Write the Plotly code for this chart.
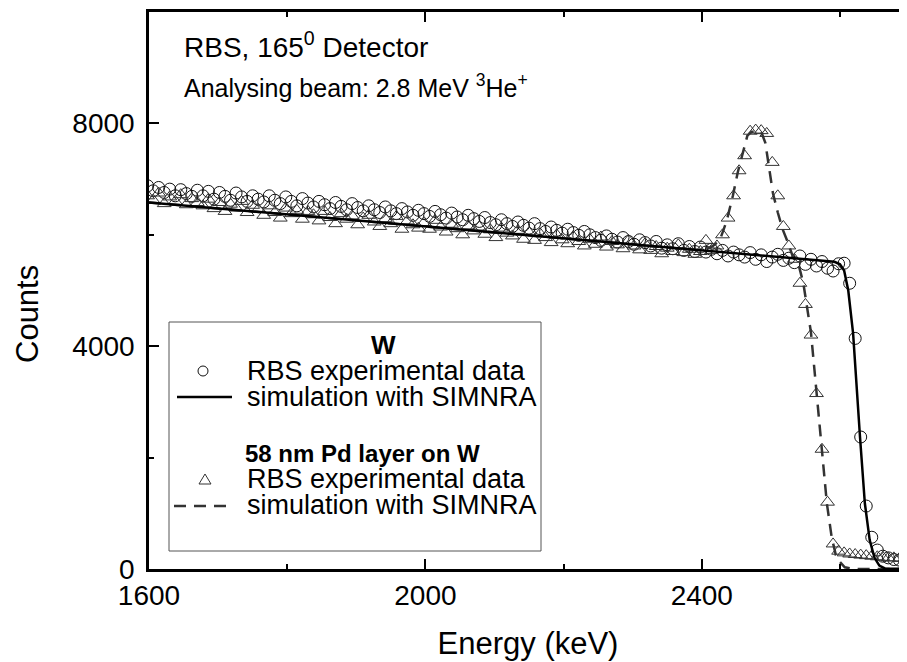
import plotly.graph_objects as go

# ---------------- data ----------------
energy_keV = [
    1598, 1606, 1614, 1622, 1630, 1638, 1646, 1654, 1662, 1670,
    1678, 1686, 1694, 1702, 1710, 1718, 1726, 1734, 1742, 1750,
    1758, 1766, 1774, 1782, 1790, 1798, 1806, 1814, 1822, 1830,
    1838, 1846, 1854, 1862, 1870, 1878, 1886, 1894, 1902, 1910,
    1918, 1926, 1934, 1942, 1950, 1958, 1966, 1974, 1982, 1990,
    1998, 2006, 2014, 2022, 2030, 2038, 2046, 2054, 2062, 2070,
    2078, 2086, 2094, 2102, 2110, 2118, 2126, 2134, 2142, 2150,
    2158, 2166, 2174, 2182, 2190, 2198, 2206, 2214, 2222, 2230,
    2238, 2246, 2254, 2262, 2270, 2278, 2286, 2294, 2302, 2310,
    2318, 2326, 2334, 2342, 2350, 2358, 2366, 2374, 2382, 2390,
    2398, 2406, 2414, 2422, 2430, 2438, 2446, 2454, 2462, 2470,
    2478, 2486, 2494, 2502, 2510, 2518, 2526, 2534, 2542, 2550,
    2558, 2566, 2574, 2582, 2590, 2598, 2606, 2614, 2622, 2630,
    2638, 2646, 2654, 2662, 2670, 2678, 2686, 2694,
]

w_exp_counts = [
    6880, 6790, 6850, 6760, 6820, 6700, 6810, 6740, 6690, 6800,
    6700, 6780, 6640, 6760, 6690, 6620, 6750, 6680, 6600, 6700,
    6640, 6590, 6700, 6620, 6560, 6680, 6600, 6520, 6650, 6570,
    6500, 6600, 6540, 6470, 6580, 6510, 6450, 6560, 6490, 6430,
    6520, 6450, 6400, 6500, 6430, 6380, 6470, 6410, 6350, 6440,
    6380, 6330, 6420, 6360, 6300, 6390, 6320, 6270, 6350, 6290,
    6240, 6310, 6220, 6180, 6270, 6200, 6150, 6230, 6170, 6120,
    6200, 6110, 6060, 6140, 6080, 6030, 6100, 6040, 5990, 6060,
    6000, 5950, 5900, 5980, 5920, 5870, 5950, 5880, 5830, 5910,
    5860, 5800, 5880, 5760, 5820, 5750, 5840, 5720, 5790, 5700,
    5780, 5690, 5740, 5660, 5720, 5620, 5690, 5640, 5600, 5680,
    5560, 5640, 5520, 5600, 5650, 5540, 5580, 5500, 5620, 5470,
    5560, 5440, 5520, 5400, 5350, 5480, 5490, 5130, 4140, 2370,
    1130, 570, 340, 230, 200, 170, 160, 150,
]

pd_exp_counts = [
    6700, 6620, 6750, 6560, 6680, 6600, 6720, 6540, 6650, 6580,
    6520, 6640, 6470, 6580, 6420, 6550, 6480, 6600, 6400, 6530,
    6460, 6350, 6520, 6400, 6300, 6480, 6380, 6440, 6280, 6420,
    6360, 6250, 6420, 6310, 6200, 6380, 6280, 6340, 6180, 6300,
    6350, 6230, 6150, 6290, 6200, 6330, 6100, 6250, 6180, 6120,
    6220, 6100, 6260, 6140, 6050, 6190, 6110, 6000, 6160, 6070,
    6140, 6010, 6090, 5950, 6120, 6030, 5980, 6080, 5920, 6040,
    5900, 6020, 5950, 5860, 6000, 5910, 5840, 5970, 5880, 5800,
    5920, 5830, 5960, 5780, 5880, 5820, 5750, 5900, 5800, 5730,
    5840, 5720, 5790, 5660, 5760, 5700, 5820, 5680, 5740, 5650,
    5700, 5900, 5720, 5800, 6000, 6300, 6700, 7150, 7420, 7860,
    7880, 7870, 7820, 7300, 6700, 6150, 5800, 5560, 5130, 4750,
    4200, 3150, 2150, 1200, 450, 320, 290, 270, 260, 250,
    240, 230, 220, 210, 200, 200, 190, 180,
]

w_sim_energy = [1600, 2592, 2600, 2606, 2612, 2619, 2629, 2636, 2643, 2650, 2657, 2665, 2700]
w_sim_counts = [6580, 5515, 5470, 5360, 5000, 4230, 2370, 1180, 520, 200, 60, 10, 0]

pd_sim_energy = [1600, 2400, 2414, 2426, 2436, 2445, 2452, 2460, 2466, 2472, 2486, 2492,
                 2497, 2503, 2510, 2517, 2525, 2532, 2541, 2547, 2558, 2565, 2573, 2581,
                 2588, 2594, 2600, 2607, 2620, 2700]
pd_sim_counts = [6580, 5720, 5780, 5900, 6250, 6700, 7120, 7520, 7780, 7850, 7850, 7650,
                 7210, 6745, 6400, 6100, 5850, 5600, 5420, 5130, 4250, 3300, 2240, 1180,
                 570, 250, 125, 30, 0, 0]

x_ticks = [1600, 2000, 2400]
y_ticks = [0, 4000, 8000]

# ---------------- figure ----------------
FONT = "Liberation Sans, Arial, sans-serif"
OFF = 8                      # page body margin of the html page
WIN_W, WIN_H = 907, 662
# plot area in window pixels
PL, PR, PT, PB = 149, 907, 12, 569
FW, FH = WIN_W - OFF, WIN_H - OFF


def X(p):
    return (p - PL) / (PR - PL)


def Y(p):
    return (PB - p) / (PB - PT)


fig = go.Figure()

fig.add_trace(go.Scatter(
    x=energy_keV, y=w_exp_counts, mode="markers", name="W RBS experimental data",
    marker=dict(symbol="circle-open", size=12, color="#111111", line=dict(width=1, color="#111111")),
))
fig.add_trace(go.Scatter(
    x=energy_keV, y=pd_exp_counts, mode="markers", name="Pd/W RBS experimental data",
    marker=dict(symbol="triangle-up-open", size=12, color="#333333", line=dict(width=1, color="#333333")),
))
fig.add_trace(go.Scatter(
    x=pd_sim_energy, y=pd_sim_counts, mode="lines", name="Pd/W simulation with SIMNRA",
    line=dict(color="#333333", width=2.5, dash="12px,8px"),
))
fig.add_trace(go.Scatter(
    x=w_sim_energy, y=w_sim_counts, mode="lines", name="W simulation with SIMNRA",
    line=dict(color="#000000", width=2.5),
))
# helper trace for right-side tick marks
fig.add_trace(go.Scatter(x=[1600], y=[None], yaxis="y2", mode="markers", showlegend=False, hoverinfo="skip"))

annotations = [
    dict(x=X(182), y=Y(45), text="RBS, 165<sup>0</sup> Detector", font=dict(size=28)),
    dict(x=X(182), y=Y(86), text="Analysing beam: 2.8 MeV <sup>3</sup>He<sup>+</sup>", font=dict(size=25)),
    dict(x=X(383), y=Y(345), text="<b>W</b>", font=dict(size=26), xanchor="center"),
    dict(x=X(245), y=Y(371), text="RBS experimental data", font=dict(size=27)),
    dict(x=X(245), y=Y(397), text="simulation with SIMNRA", font=dict(size=27)),
    dict(x=X(362), y=Y(453), text="<b>58 nm Pd layer on W</b>", font=dict(size=24), xanchor="center"),
    dict(x=X(245), y=Y(479), text="RBS experimental data", font=dict(size=27)),
    dict(x=X(245), y=Y(505), text="simulation with SIMNRA", font=dict(size=27)),
    dict(x=X(27), y=Y(314), text="Counts", font=dict(size=31), xanchor="center", textangle=-90),
]
ann_list = []
for a in annotations:
    d = dict(xref="paper", yref="paper", showarrow=False, xanchor="left", yanchor="middle",
             font=dict(family=FONT, color="#000000"))
    d.update({k: v for k, v in a.items() if k != "font"})
    d["font"].update(a["font"])
    ann_list.append(d)

tri_cx, tri_cy = 205, 480
tri_path = "M {:.5f},{:.5f} L {:.5f},{:.5f} L {:.5f},{:.5f} Z".format(
    X(tri_cx - 6), Y(tri_cy + 4), X(tri_cx + 6), Y(tri_cy + 4), X(tri_cx), Y(tri_cy - 6))

shapes = [
    dict(type="rect", xref="paper", yref="paper", x0=X(169), x1=X(541), y0=Y(551), y1=Y(322),
         line=dict(color="#555555", width=1), fillcolor="rgba(0,0,0,0)", layer="above"),
    dict(type="circle", xref="paper", yref="paper", x0=X(198), x1=X(208), y0=Y(376), y1=Y(366),
         line=dict(color="#111111", width=1)),
    dict(type="line", xref="paper", yref="paper", x0=X(177), x1=X(232), y0=Y(397), y1=Y(397),
         line=dict(color="#000000", width=2.5)),
    dict(type="path", xref="paper", yref="paper", path=tri_path, line=dict(color="#333333", width=1)),
    dict(type="line", xref="paper", yref="paper", x0=X(174), x1=X(232), y0=Y(506), y1=Y(506),
         line=dict(color="#333333", width=2.5, dash="12px,8px")),
]

fig.update_layout(
    width=FW, height=FH,
    margin=dict(l=PL - OFF, r=WIN_W - PR, t=PT - OFF, b=WIN_H - PB, pad=0, autoexpand=False),
    paper_bgcolor="white", plot_bgcolor="white",
    showlegend=False,
    font=dict(family=FONT, size=28, color="#000000"),
    annotations=ann_list,
    shapes=shapes,
    xaxis=dict(
        range=[1600, 2697], tickvals=x_ticks, ticktext=[str(v) for v in x_ticks],
        ticks="inside", ticklen=10, tickwidth=2, tickcolor="#000000",
        showline=True, linewidth=2.5, linecolor="#000000", mirror="ticks",
        showgrid=False, zeroline=False, automargin=False,
        minor=dict(dtick=200, tick0=1600, ticks="inside", ticklen=5, tickwidth=2, tickcolor="#000000"),
        tickfont=dict(size=28), ticklabelstandoff=0,
        title=dict(text="Energy (keV)", font=dict(size=31), standoff=22),
    ),
    yaxis=dict(
        range=[0, 10000], tickvals=y_ticks, ticktext=[str(v) for v in y_ticks],
        ticks="inside", ticklen=10, tickwidth=2, tickcolor="#000000",
        showline=True, linewidth=2.5, linecolor="#000000", mirror=False,
        showgrid=False, zeroline=False, automargin=False,
        minor=dict(dtick=2000, tick0=0, ticks="inside", ticklen=5, tickwidth=2, tickcolor="#000000"),
        tickfont=dict(size=28), ticklabelstandoff=6,
    ),
    yaxis2=dict(
        overlaying="y", side="right", range=[0, 10000], tickvals=y_ticks,
        ticks="inside", ticklen=5, tickwidth=2, tickcolor="#000000", automargin=False,
        showticklabels=False, showline=False, showgrid=False, zeroline=False,
    ),
)

fig.write_html("out.html")
